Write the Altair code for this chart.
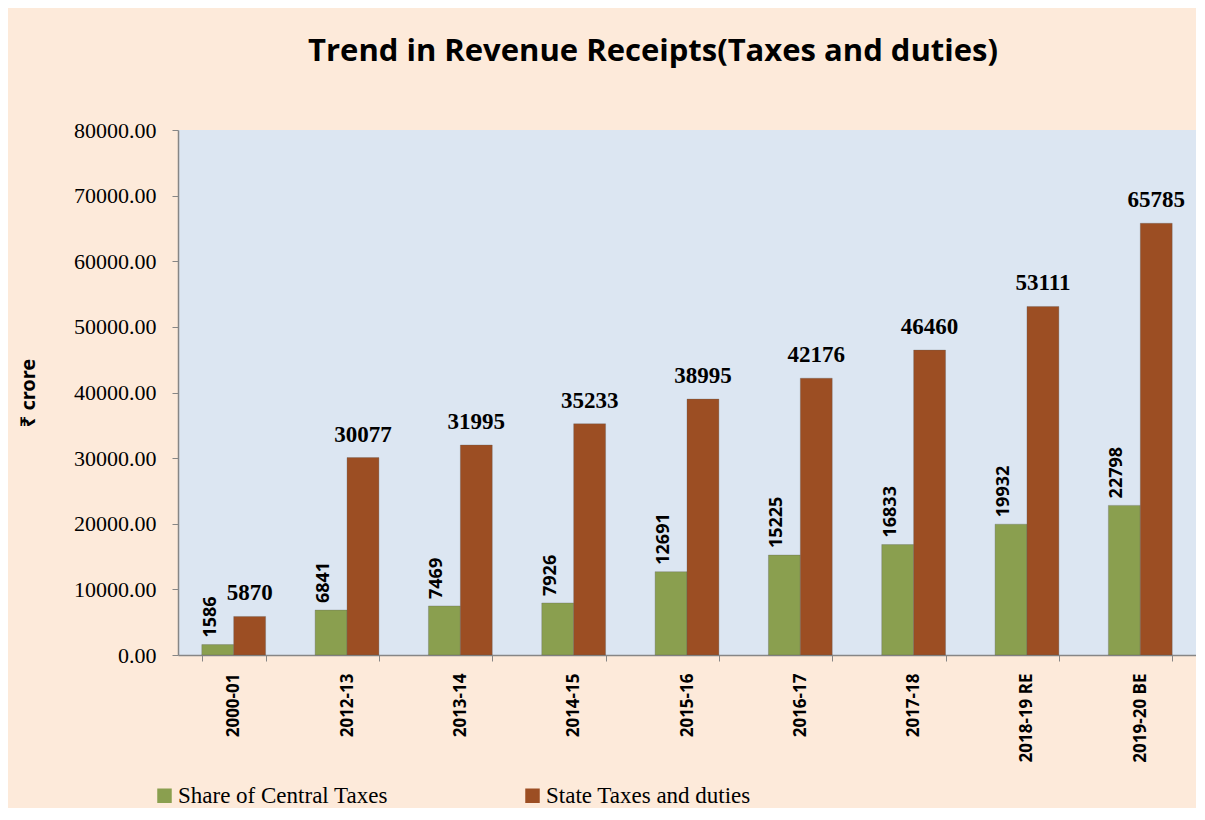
import altair as alt
import pandas as pd

years = ["2000-01", "2012-13", "2013-14", "2014-15", "2015-16", "2016-17",
         "2017-18", "2018-19 RE", "2019-20 BE"]
central = [1586, 6841, 7469, 7926, 12691, 15225, 16833, 19932, 22798]
state = [5870, 30077, 31995, 35233, 38995, 42176, 46460, 53111, 65785]
series_names = ["Share of Central Taxes", "State Taxes and duties"]
colors = ["#8A9F4F", "#9C4E23"]
y_ticks = [0, 10000, 20000, 30000, 40000, 50000, 60000, 70000, 80000]

rows = []
for i, yr in enumerate(years):
    rows.append({"year": yr, "series": series_names[0], "value": central[i]})
    rows.append({"year": yr, "series": series_names[1], "value": state[i]})
df = pd.DataFrame(rows)

x_enc = alt.X("year:N", sort=years,
              scale=alt.Scale(paddingInner=0.437, paddingOuter=0.21),
              axis=alt.Axis(title=None, labelAngle=270, labelFont="Open Sans",
                            labelFontWeight="bold", labelFontSize=17,
                            labelColor="#000000", labelPadding=12,
                            tickBand="extent", tickSize=6, tickColor="#868686",
                            domainColor="#868686", domainWidth=1.5,
                            labelLimit=200))
xo_enc = alt.XOffset("series:N", sort=series_names)
y_enc = alt.Y("value:Q",
              scale=alt.Scale(domain=[0, 80000], nice=False),
              axis=alt.Axis(title="₹ crore", values=y_ticks, format=".2f",
                            labelFont="Liberation Serif", labelFontSize=22,
                            labelColor="#000000", labelPadding=16,
                            tickSize=6, tickColor="#868686",
                            domainColor="#868686", domainWidth=1.5,
                            grid=False, titleFont="Noto Sans",
                            titleFontWeight="bold", titleFontSize=20,
                            titleColor="#000000", titlePadding=35))

base = alt.Chart(df)

bars = base.mark_bar(stroke="#5a5a5a", strokeWidth=0.6, strokeOpacity=0.5).encode(
    x=x_enc, xOffset=xo_enc, y=y_enc,
    color=alt.Color("series:N", sort=series_names,
                    scale=alt.Scale(domain=series_names, range=colors),
                    legend=alt.Legend(title=None, orient="none",
                                      direction="horizontal",
                                      legendX=-25, legendY=654,
                                      symbolType="square", symbolSize=210,
                                      symbolStrokeWidth=0,
                                      labelFont="Liberation Serif",
                                      labelFontSize=23, labelColor="#000000",
                                      labelOffset=2, columnPadding=133,
                                      labelLimit=400)),
)

green_text = base.transform_filter(
    alt.datum.series == series_names[0]
).mark_text(angle=270, align="left", baseline="middle", dx=7, dy=-7,
            font="Open Sans", fontWeight="bold", fontSize=18,
            color="#000000").encode(
    x=alt.X("year:N", sort=years), xOffset=xo_enc, y="value:Q",
    text=alt.Text("value:Q", format="d"))

orange_text = base.transform_filter(
    alt.datum.series == series_names[1]
).mark_text(align="center", baseline="bottom", dy=-11,
            font="Liberation Serif", fontWeight="bold", fontSize=23,
            color="#000000").encode(
    x=alt.X("year:N", sort=years), xOffset=xo_enc, y="value:Q",
    text=alt.Text("value:Q", format="d"))

chart = alt.layer(bars, green_text, orange_text).properties(
    width=1018, height=525,
    background="#FDEADA",
    padding={"left": 10, "right": 0, "top": 28, "bottom": 0},
    title=alt.TitleParams("Trend in Revenue Receipts(Taxes and duties)",
                          font="Open Sans", fontWeight="bold", fontSize=31,
                          color="#000000", anchor="middle", frame="group",
                          dx=-34, offset=51),
).configure_view(fill="#DCE6F2", stroke=None)

chart.save("out.html", embed_options={"renderer": "svg", "actions": False})
